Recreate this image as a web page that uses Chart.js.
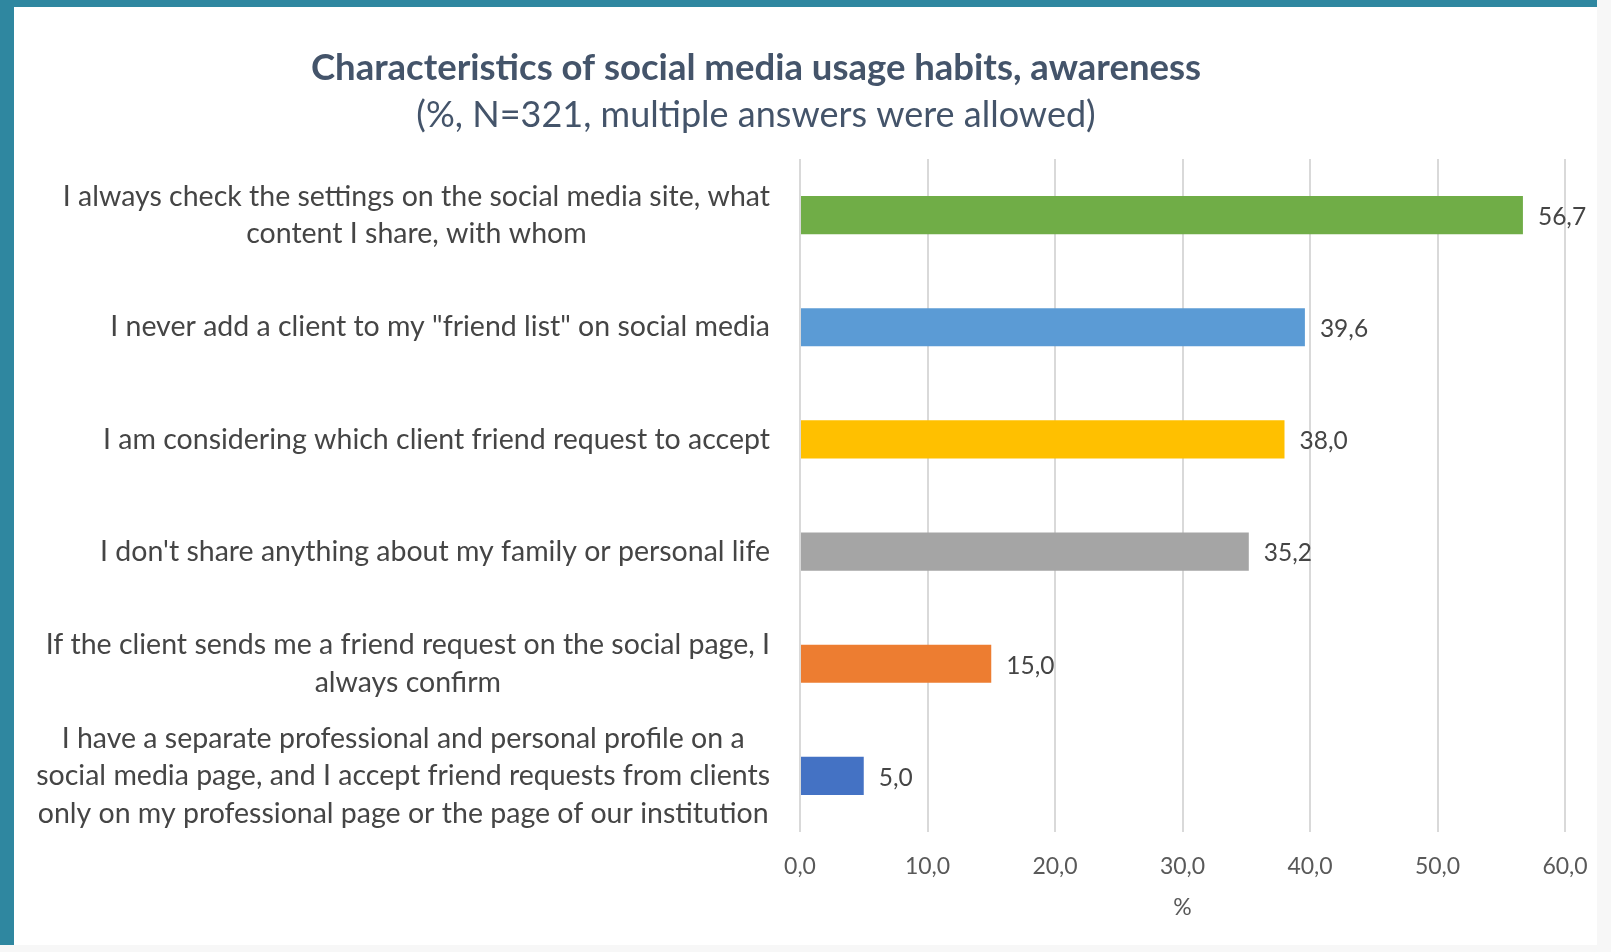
<!DOCTYPE html>
<html>
<head>
<meta charset="utf-8">
<title>Social media usage habits</title>
<script src="https://cdn.jsdelivr.net/npm/chart.js@4.4.1/dist/chart.umd.min.js"></script>
<style>
  html, body { margin: 0; padding: 0; width: 1611px; height: 952px; overflow: hidden; background: #f7f7f7; }
  #frame {
    position: absolute; left: 0; top: 0; width: 1597px; height: 945px;
    box-sizing: border-box; background: #fff;
    border-left: 14px solid #2f87a0; border-top: 7px solid #2f87a0;
  }
  #wrap { position: absolute; left: 0; top: 0; width: 1611px; height: 952px; }
</style>
</head>
<body>
<div id="frame"></div>
<div id="wrap"><canvas id="chart" width="1611" height="952"></canvas></div>
<script>
// Chart data
const titleText = 'Characteristics of social media usage habits, awareness';
const subtitleText = '(%, N=321, multiple answers were allowed)';
const categories = [
    ['I always check the settings on the social media site, what', 'content I share, with whom'],
    ['I never add a client to my "friend list" on social media'],
    ['I am considering which client friend request to accept'],
    ["I don't share anything about my family or personal life"],
    ['If the client sends me a friend request on the social page, I', 'always confirm'],
    ['I have a separate professional and personal profile on a',
     'social media page, and I accept friend requests from clients',
     'only on my professional page or the page of our institution']
];
const values = [56.7, 39.6, 38.0, 35.2, 15.0, 5.0];
const barColors = ['#70AD47', '#5B9BD5', '#FFC000', '#A5A5A5', '#ED7D31', '#4472C4'];
const xTicks = [0, 10, 20, 30, 40, 50, 60];
const xAxisTitle = '%';

const FONT = 'Lato, "Open Sans", sans-serif';
const PLOT_LEFT = 800;
const LABEL_RIGHT = 770;
const LABEL_LINE = 37.5;

const fmt = v => v.toFixed(1).replace('.', ',');

// Title, category labels and value labels
const textPlugin = {
    id: 'textPlugin',
    afterDraw(chart) {
        const ctx = chart.ctx;
        const yScale = chart.scales.y;
        ctx.save();

        ctx.textAlign = 'center';
        ctx.textBaseline = 'middle';
        ctx.fillStyle = '#44546A';
        ctx.font = 'bold 36.5px ' + FONT;
        ctx.fillText(titleText, 756, 68);
        ctx.font = '36px ' + FONT;
        ctx.fillText(subtitleText, 756, 115);

        ctx.font = '28.5px ' + FONT;
        ctx.fillStyle = '#454545';
        categories.forEach((lines, i) => {
            const w = Math.max(...lines.map(l => ctx.measureText(l).width));
            const cx = LABEL_RIGHT - w / 2;
            const cy = yScale.getPixelForValue(i);
            lines.forEach((l, j) => {
                ctx.fillText(l, cx, cy + (j - (lines.length - 1) / 2) * LABEL_LINE);
            });
        });

        ctx.textAlign = 'left';
        ctx.font = '24.5px ' + FONT;
        ctx.fillStyle = '#454545';
        chart.getDatasetMeta(0).data.forEach((bar, i) => {
            ctx.fillText(fmt(values[i]), bar.x + 15, bar.y + 2);
        });
        ctx.restore();
    }
};

const ctx = document.getElementById('chart').getContext('2d');
const chart = new Chart(ctx, {
    type: 'bar',
    data: {
        labels: categories.map(c => c.join(' ')),
        datasets: [{
            data: values,
            backgroundColor: barColors,
            borderWidth: 0,
            categoryPercentage: 1,
            barPercentage: 0.34
        }]
    },
    options: {
        indexAxis: 'y',
        responsive: false,
        animation: false,
        layout: { padding: { top: 159, right: 46, bottom: 0, left: 0 } },
        plugins: {
            legend: { display: false },
            tooltip: { enabled: false }
        },
        scales: {
            x: {
                min: 0,
                max: 60,
                afterBuildTicks: axis => { axis.ticks = xTicks.map(v => ({ value: v })); },
                afterFit: axis => { axis.height = 120; },
                grid: { color: '#D9D9D9', lineWidth: 2, drawTicks: false },
                border: { display: false },
                ticks: {
                    padding: 21,
                    color: '#595959',
                    font: { family: FONT, size: 23 },
                    callback: v => fmt(v)
                },
                title: {
                    display: true,
                    text: xAxisTitle,
                    color: '#595959',
                    font: { family: FONT, size: 23 },
                    padding: { top: 0, bottom: 31 }
                }
            },
            y: {
                afterFit: axis => { axis.width = PLOT_LEFT; },
                grid: { display: false },
                border: { display: false },
                ticks: { display: false }
            }
        }
    },
    plugins: [textPlugin]
});
</script>
</body>
</html>
